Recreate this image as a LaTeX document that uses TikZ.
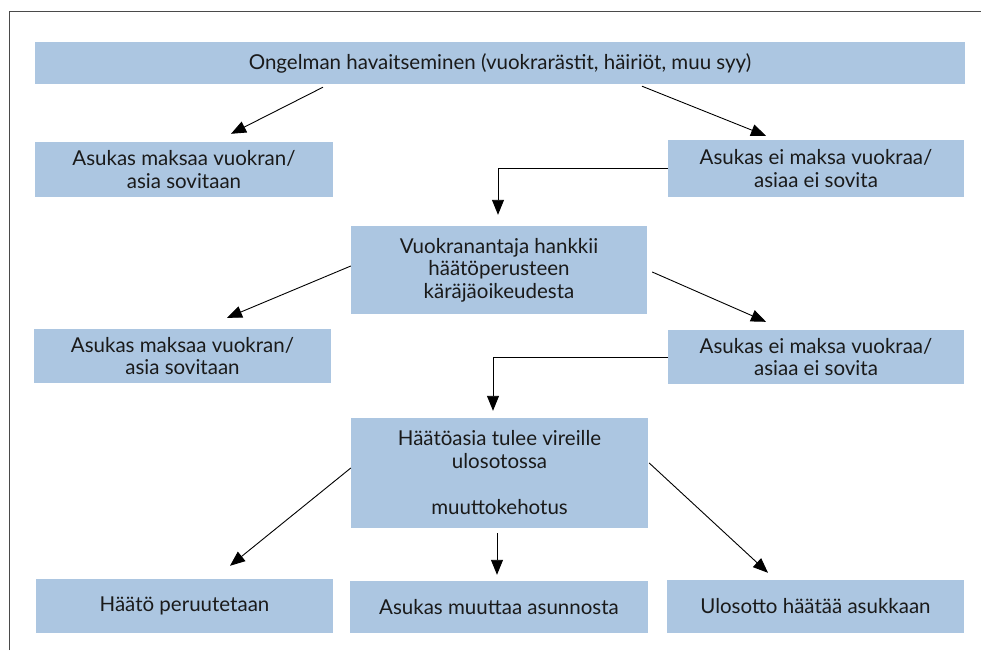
\documentclass[tikz,border=0pt]{standalone}
\usepackage{fontspec}
\setmainfont{Lato}
\usetikzlibrary{arrows.meta,calc}
\definecolor{boxblue}{HTML}{ACC6E1}
\definecolor{framegray}{HTML}{4A4A4A}
\definecolor{inkblack}{HTML}{1A1A1A}
\begin{document}
\begin{tikzpicture}[x=1pt,y=-1pt,
  box/.style={fill=boxblue,inner sep=0pt,align=center,text=inkblack,
    font=\fontsize{20.5}{22.5}\selectfont},
  arr/.style={draw=black,line width=0.9pt,
    -{Triangle[length=15pt,width=12pt]}}]
\useasboundingbox (0,0) rectangle (981,650);
% outer frame (top and left edges only)
\draw[framegray,line width=1.2pt] (9.5,650) -- (9.5,11.5) -- (981,11.5);

% boxes
\node[box,minimum width=930pt,minimum height=42pt] (top) at (500,63)
  {Ongelman havaitseminen (vuokrarästit, häiriöt, muu syy)};
\node[box,minimum width=298pt,minimum height=55pt] (L1) at (184,169.5)
  {Asukas maksaa vuokran/\\asia sovitaan};
\node[box,minimum width=296pt,minimum height=57pt] (R1) at (816,168.5)
  {Asukas ei maksa vuokraa/\\asiaa ei sovita};
\node[box,minimum width=296pt,minimum height=88pt] (M2) at (499,270)
  {Vuokranantaja hankkii\\häätöperusteen\\käräjäoikeudesta};
\node[box,minimum width=297pt,minimum height=54pt] (L2) at (182.5,356)
  {Asukas maksaa vuokran/\\asia sovitaan};
\node[box,minimum width=296pt,minimum height=54pt] (R2) at (816,357)
  {Asukas ei maksa vuokraa/\\asiaa ei sovita};
\node[box,minimum width=297pt,minimum height=110pt] (M3) at (499.5,473)
  {Häätöasia tulee vireille\\ulosotossa\\[24pt]muuttokehotus};
\node[box,minimum width=297pt,minimum height=54pt] (B1) at (184.5,606)
  {Häätö peruutetaan};
\node[box,minimum width=298pt,minimum height=52pt] (B2) at (499,607)
  {Asukas muuttaa asunnosta};
\node[box,minimum width=297pt,minimum height=53pt] (B3) at (815.5,606.5)
  {Ulosotto häätää asukkaan};

% connectors
\draw[arr] ([shift={(-177,3)}]top.south) -- ([shift={(47,-8)}]L1.north);
\draw[arr] ([shift={(142,2)}]top.south) -- ([shift={(-50,-4)}]R1.north);
\draw[arr] (R1.west) -| ([shift={(-1,-11)}]M2.north);
\draw[arr] ([shift={(0,-4)}]M2.west) -- ([shift={(44.5,-11)}]L2.north);
\draw[arr] ([shift={(5,2)}]M2.east) -- ([shift={(-50,-8)}]R2.north);
\draw[arr] (R2.west) -| ([shift={(-6.5,-7)}]M3.north);
\draw[arr] ([shift={(0,-5)}]M3.west) -- ([shift={(45.5,-13)}]B1.north);
\draw[arr] ([shift={(-2.5,5)}]M3.south) -- ([shift={(-2,-6)}]B2.north);
\draw[arr] ([shift={(1,-10)}]M3.east) -- ([shift={(-47.5,-7)}]B3.north);
\end{tikzpicture}
\end{document}
